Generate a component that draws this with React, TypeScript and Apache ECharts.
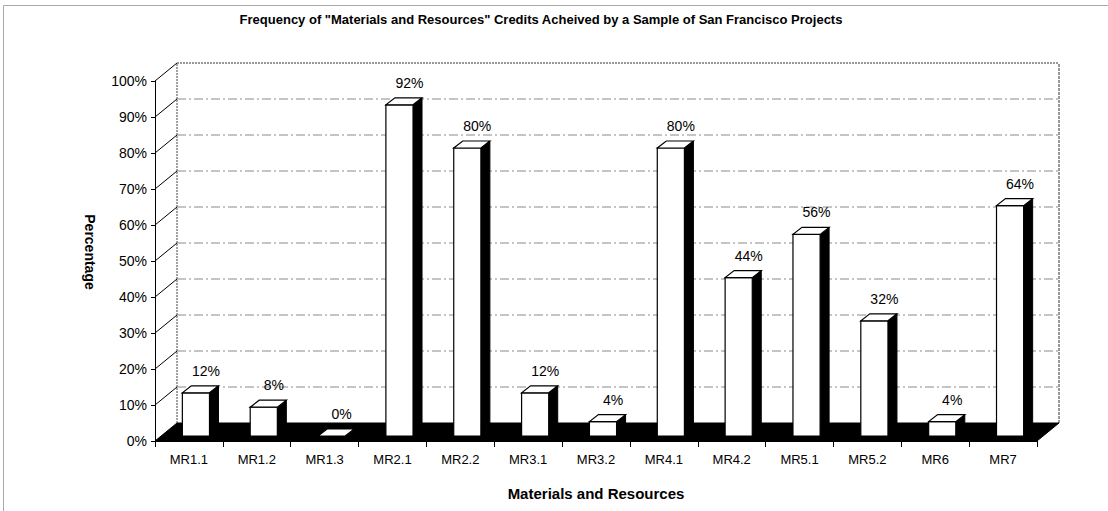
import React, { useEffect, useRef } from "react";
import * as echarts from "echarts";

const categories = ["MR1.1", "MR1.2", "MR1.3", "MR2.1", "MR2.2", "MR3.1", "MR3.2", "MR4.1", "MR4.2", "MR5.1", "MR5.2", "MR6", "MR7"];
const values = [12, 8, 0, 92, 80, 12, 4, 80, 44, 56, 32, 4, 64];
const gridValues = [10, 20, 30, 40, 50, 60, 70, 80, 90, 100];

const title = 'Frequency of "Materials and Resources" Credits Acheived by a Sample of San Francisco Projects';
const xTitle = "Materials and Resources";
const yTitle = "Percentage";

// 3D geometry (pixels)
const DX = 22, DY = -18; // wall depth
const BX = 9, BY = -7; // bar depth
const OX = 7, OY = -5; // bar offset into depth

const FONT = "Liberation Sans, Arial";

export default function App() {
  const ref = useRef<HTMLDivElement>(null);
  useEffect(() => {
    document.body.style.margin = "0";
    const chart = echarts.init(ref.current!, null, { renderer: "svg" });
    const n = categories.length;
    const option: any = {
      animation: false,
      backgroundColor: "#fff",
      title: {
        text: title,
        left: 536,
        textAlign: "center",
        top: 8,
        textStyle: { fontFamily: FONT, fontSize: 13, fontWeight: "bold", color: "#000" },
      },
      graphic: [
        { type: "rect", shape: { x: 3.5, y: 5.5, width: 1110, height: 520 }, style: { fill: "none", stroke: "#aaa", lineWidth: 1 }, silent: true },
        {
          type: "text",
          x: 90,
          y: 252,
          rotation: -Math.PI / 2,
          style: { text: yTitle, textAlign: "center", textVerticalAlign: "middle", fontFamily: FONT, fontSize: 14, fontWeight: "bold", fill: "#000" },
          silent: true,
        },
      ],
      grid: { left: 155, right: 71, top: 81, bottom: 70 },
      xAxis: {
        type: "category",
        data: categories,
        name: xTitle,
        nameLocation: "middle",
        nameGap: 45,
        nameTextStyle: { fontFamily: FONT, fontSize: 15, fontWeight: "bold", color: "#000" },
        axisLine: { lineStyle: { color: "#000", width: 1 } },
        axisTick: { show: true, length: 6, lineStyle: { color: "#000" } },
        axisLabel: { fontFamily: FONT, fontSize: 13, color: "#000", margin: 12, interval: 0 },
        splitLine: { show: false },
        z: 10,
      },
      yAxis: {
        type: "value",
        min: 0,
        max: 100,
        interval: 10,
        axisLine: { show: true, lineStyle: { color: "#000", width: 1 } },
        axisTick: { show: true, length: 4, lineStyle: { color: "#000" } },
        axisLabel: { formatter: "{value}%", fontFamily: FONT, fontSize: 14, color: "#000", margin: 8 },
        splitLine: { show: false },
      },
      series: [
        {
          type: "custom",
          name: "walls",
          silent: true,
          z: 1,
          data: [[0, 0]],
          renderItem: (params: any, api: any) => {
            const bandW = api.size([1, 0])[0];
            const x0 = api.coord([0, 0])[0] - bandW / 2;
            const x1 = api.coord([n - 1, 0])[0] + bandW / 2;
            const y = (v: number) => api.coord([0, v])[1];
            const children: any[] = [];
            const dash = [9, 3, 2, 3];
            gridValues.forEach((v) => {
              if (v < 100) {
                children.push({
                  type: "line",
                  shape: { x1: x0 + DX, y1: y(v) + DY, x2: x1 + DX, y2: y(v) + DY },
                  style: { stroke: "#8a8a8a", lineWidth: 1, lineDash: dash },
                });
              }
              children.push({
                type: "line",
                shape: { x1: x0, y1: y(v), x2: x0 + DX, y2: y(v) + DY },
                style: { stroke: "#000", lineWidth: 1 },
              });
            });
            children.push({
              type: "line",
              shape: { x1: x0 + DX, y1: y(100) + DY, x2: x1 + DX, y2: y(100) + DY },
              style: { stroke: "#333", lineWidth: 1, lineDash: [2, 1] },
            });
            children.push({
              type: "line",
              shape: { x1: x0 + DX, y1: y(0) + DY, x2: x0 + DX, y2: y(100) + DY },
              style: { stroke: "#444", lineWidth: 1, lineDash: [2, 1] },
            });
            children.push({
              type: "line",
              shape: { x1: x1 + DX, y1: y(0) + DY, x2: x1 + DX, y2: y(100) + DY },
              style: { stroke: "#333", lineWidth: 1, lineDash: [3, 1] },
            });
            children.push({
              type: "polygon",
              shape: { points: [[x0, y(0)], [x1, y(0)], [x1 + DX, y(0) + DY], [x0 + DX, y(0) + DY]] },
              style: { fill: "#000", stroke: "#000", lineWidth: 1 },
            });
            return { type: "group", children };
          },
        },
        {
          type: "custom",
          name: "bars",
          z: 5,
          data: values.map((v, i) => [i, v]),
          renderItem: (params: any, api: any) => {
            const i = api.value(0);
            const v = api.value(1);
            const bandW = api.size([1, 0])[0];
            const c = api.coord([i, v]);
            const b = api.coord([i, 0]);
            const fw = bandW * 0.4;
            const fx = c[0] - fw / 2 + OX;
            const top = c[1] + OY;
            const base = b[1] + OY;
            const children: any[] = [];
            if (base - top > 0.5) {
              children.push({
                type: "polygon",
                shape: { points: [[fx + fw, top], [fx + fw + BX, top + BY], [fx + fw + BX, base + BY], [fx + fw, base]] },
                style: { fill: "#000", stroke: "#000", lineWidth: 1 },
              });
              children.push({
                type: "rect",
                shape: { x: fx, y: top, width: fw, height: base - top },
                style: { fill: "#fff", stroke: "#000", lineWidth: 1.2 },
              });
            }
            children.push({
              type: "polygon",
              shape: { points: [[fx, top], [fx + fw, top], [fx + fw + BX, top + BY], [fx + BX, top + BY]] },
              style: { fill: "#fff", stroke: "#000", lineWidth: 1.2 },
            });
            children.push({
              type: "text",
              style: {
                text: v + "%",
                x: fx + fw / 2 + 10,
                y: top + BY - 8,
                textAlign: "center",
                textVerticalAlign: "bottom",
                fontFamily: FONT,
                fontSize: 14,
                fill: "#000",
              },
            });
            return { type: "group", children };
          },
        },
      ],
    };
    chart.setOption(option);
    return () => chart.dispose();
  }, []);
  return <div ref={ref} style={{ width: 1108, height: 511 }} />;
}
